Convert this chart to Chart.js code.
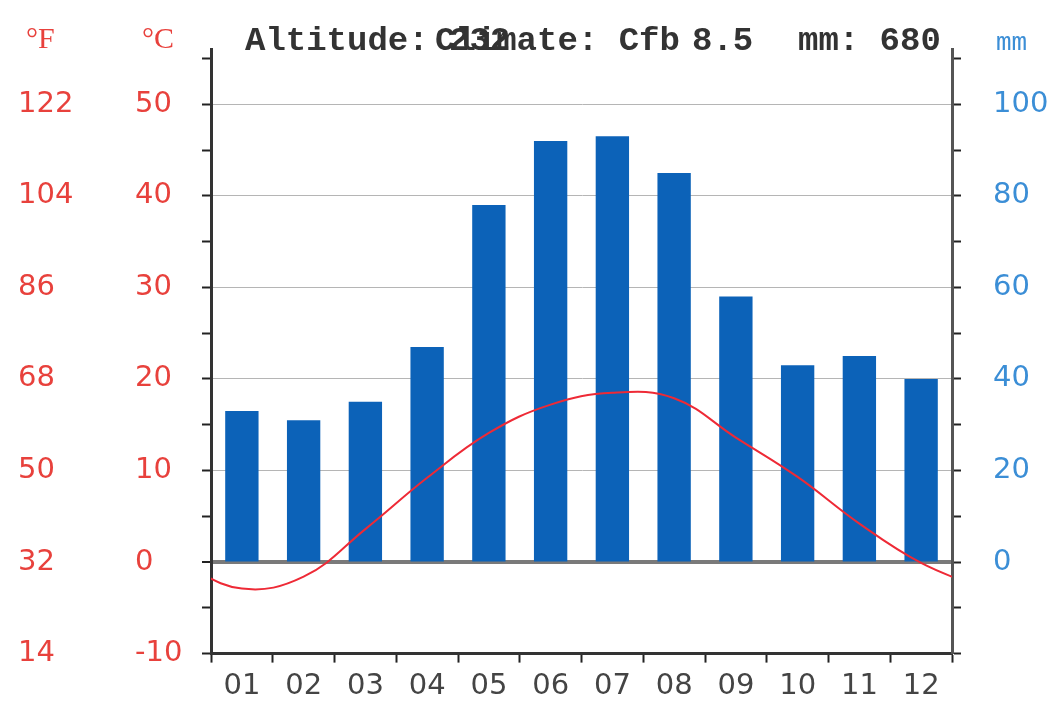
<!DOCTYPE html>
<html>
<head>
<meta charset="utf-8">
<script src="https://cdn.jsdelivr.net/npm/chart.js@4"></script>
<style>
  html, body { margin: 0; padding: 0; background: #fff; }
  #wrap { width: 1054px; height: 703px; }
</style>
</head>
<body>
<div id="wrap"><canvas id="climateChart" width="1054" height="703"></canvas></div>
<script>
const months = ['01', '02', '03', '04', '05', '06', '07', '08', '09', '10', '11', '12'];
const rainfall = [33, 31, 35, 47, 78, 92, 93, 85, 58, 43, 45, 40];
const temperature = [-2.9, -1.6, 3.6, 9.2, 14.1, 17.2, 18.5, 17.9, 13.6, 9.3, 4.2, -0.1];
const tempTicks = [-10, 0, 10, 20, 30, 40, 50];
const fahrTicks = [14, 32, 50, 68, 86, 104, 122];
const rainTicks = [0, 20, 40, 60, 80, 100];

const RED = '#e8413c';
const BLUE = '#3b8ed6';
const tickFont = { family: 'DejaVu Sans', size: 29 };

// line wraps round the year so it reaches both edges of the plot
const tempPoints = [{ x: 0, y: temperature[11] }]
    .concat(temperature.map((t, i) => ({ x: i + 1, y: t })))
    .concat([{ x: 13, y: temperature[0] }]);

const headerText = {
    id: 'headerText',
    afterDraw(chart) {
        const ctx = chart.ctx;
        ctx.save();
        ctx.textBaseline = 'alphabetic';
        ctx.textAlign = 'left';
        ctx.font = '30px "Liberation Serif"';
        ctx.fillStyle = RED;
        ctx.fillText('°F', 26, 48);
        ctx.fillText('°C', 142, 48);
        ctx.fillStyle = BLUE;
        ctx.font = '26px "Liberation Mono"';
        ctx.fillText('mm', 996, 50);
        ctx.fillStyle = '#333';
        ctx.font = 'bold 34px "Liberation Mono"';
        ctx.fillText('Altitude: 232', 245, 50);
        ctx.fillText('Climate: Cfb', 435, 50);
        ctx.fillText('8.5', 692, 50);
        ctx.fillText('mm: 680', 798, 50);
        ctx.restore();
    }
};

const ctx = document.getElementById('climateChart').getContext('2d');
new Chart(ctx, {
    data: {
        labels: months,
        datasets: [
            {
                type: 'line',
                label: '°C',
                data: tempPoints,
                xAxisID: 'xl',
                yAxisID: 'yC',
                borderColor: '#ee2a36',
                borderWidth: 2,
                pointRadius: 0,
                tension: 0.4,
                clip: 0,
                order: 0
            },
            {
                type: 'bar',
                label: 'mm',
                data: rainfall,
                xAxisID: 'x',
                yAxisID: 'yMM',
                backgroundColor: '#0c62b8',
                grouped: false,
                categoryPercentage: 1,
                barPercentage: 0.54,
                order: 1
            }
        ]
    },
    options: {
        responsive: false,
        animation: false,
        layout: { padding: { left: 18, top: 49, right: 0, bottom: 0 } },
        plugins: {
            legend: { display: false },
            tooltip: { enabled: false }
        },
        scales: {
            x: {
                type: 'category',
                position: 'bottom',
                offset: true,
                grid: { offset: true, drawOnChartArea: false, tickLength: 9, tickColor: '#222', tickWidth: 2 },
                border: { color: '#333', width: 3 },
                ticks: { color: '#444', font: tickFont, padding: 6, maxRotation: 0 },
                afterFit: s => { s.height = 48; }
            },
            xl: {
                type: 'linear',
                display: false,
                min: 0.5,
                max: 12.5
            },
            yF: {
                type: 'linear',
                position: 'left',
                weight: 1,
                min: 14,
                max: 56 * 1.8 + 32,
                grid: { display: false },
                border: { display: false },
                ticks: { color: RED, font: tickFont, padding: 0, crossAlign: 'far' },
                afterBuildTicks: s => { s.ticks = fahrTicks.map(v => ({ value: v })); },
                afterFit: s => { s.width = 117; }
            },
            yC: {
                type: 'linear',
                position: 'left',
                weight: 0,
                min: -10,
                max: 56,
                grid: {
                    color: c => {
                        const v = c.tick.value;
                        if (v === 0) return '#7a7a7a';
                        if (v > 0 && v % 10 === 0) return '#b5b5b5';
                        return 'rgba(0,0,0,0)';
                    },
                    lineWidth: c => (c.tick.value === 0 ? 4 : 1),
                    tickColor: '#222',
                    tickWidth: 2,
                    tickLength: 9
                },
                border: { color: '#333', width: 3 },
                ticks: {
                    color: RED,
                    font: tickFont,
                    padding: 0,
                    crossAlign: 'far',
                    callback: v => (tempTicks.includes(v) ? String(v) : '')
                },
                afterBuildTicks: s => {
                    const t = [];
                    for (let v = -10; v <= 55; v += 5) t.push({ value: v });
                    s.ticks = t;
                },
                afterFit: s => { s.width = 76; }
            },
            yMM: {
                type: 'linear',
                position: 'right',
                min: -20,
                max: 112,
                grid: { drawOnChartArea: false, tickColor: '#222', tickWidth: 2, tickLength: 9 },
                border: { color: '#555', width: 3 },
                ticks: {
                    color: BLUE,
                    font: tickFont,
                    padding: 32,
                    callback: v => (rainTicks.includes(v) ? String(v) : '')
                },
                afterBuildTicks: s => {
                    const t = [];
                    for (let v = -20; v <= 110; v += 10) t.push({ value: v });
                    s.ticks = t;
                },
                afterFit: s => { s.width = 102; }
            }
        }
    },
    plugins: [headerText]
});
</script>
</body>
</html>
